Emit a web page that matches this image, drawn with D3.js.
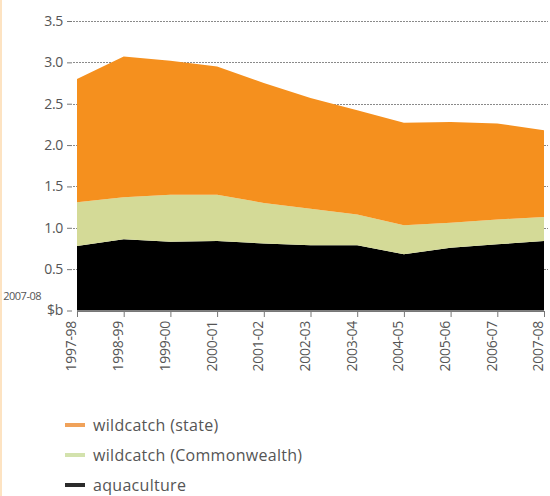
<!DOCTYPE html>
<html>
<head>
<meta charset="utf-8">
<script src="https://cdn.jsdelivr.net/npm/d3@7"></script>
<style>
  html, body { margin: 0; padding: 0; background: #fff; }
  svg { display: block; }
  text { font-family: "Open Sans", "Noto Sans", sans-serif; }
</style>
</head>
<body>
<svg id="chart" width="550" height="496"></svg>
<script>
// ---- data ----
const years = ["1997-98","1998-99","1999-00","2000-01","2001-02","2002-03","2003-04","2004-05","2005-06","2006-07","2007-08"];
const aquaculture = [0.78,0.86,0.83,0.84,0.81,0.79,0.79,0.68,0.76,0.80,0.84];
const wildCommonwealth = [0.53,0.51,0.57,0.56,0.49,0.44,0.37,0.35,0.30,0.30,0.29];
const wildState = [1.49,1.70,1.62,1.55,1.45,1.34,1.26,1.24,1.22,1.16,1.05];
const yTicks = [0, 0.5, 1.0, 1.5, 2.0, 2.5, 3.0, 3.5];
const yTickLabels = ["$b","0.5","1.0","1.5","2.0","2.5","3.0","3.5"];
const seriesKeys = ["aquaculture","wildCommonwealth","wildState"];
const seriesColors = {aquaculture:"#000000", wildCommonwealth:"#d4da97", wildState:"#f5901e"};
const legendItems = [
  {key:"wildState", label:"wildcatch (state)", color:"#f0a25a"},
  {key:"wildCommonwealth", label:"wildcatch (Commonwealth)", color:"#d3e2ad"},
  {key:"aquaculture", label:"aquaculture", color:"#2b2b2b"}
];

const table = years.map((y,i)=>({year:y, aquaculture:aquaculture[i], wildCommonwealth:wildCommonwealth[i], wildState:wildState[i]}));

const svg = d3.select("#chart");
// left border strip
svg.append("rect").attr("x",0).attr("y",0).attr("width",2).attr("height",496).attr("fill","#fde3c2");

const x = d3.scalePoint().domain(years).range([77, 544]);
const y = d3.scaleLinear().domain([0, 3.5]).range([310.5, 21]);

// gridlines
svg.append("g").selectAll("line").data(yTicks.filter(d=>d>0)).join("line")
  .attr("x1", 73).attr("x2", 548)
  .attr("y1", d=>Math.round(y(d))+0.5).attr("y2", d=>Math.round(y(d))+0.5)
  .attr("stroke","#8a8a8a").attr("stroke-width",1).attr("stroke-dasharray","2,1");

// stacked areas
const stack = d3.stack().keys(seriesKeys);
const layers = stack(table);
const area = d3.area()
  .x(d=>x(d.data.year))
  .y0(d=>y(d[0]))
  .y1(d=>y(d[1]));
svg.append("g").selectAll("path").data(layers).join("path")
  .attr("d", area)
  .attr("fill", d=>seriesColors[d.key]);

// y axis
const yAxis = d3.axisLeft(y).tickValues(yTicks).tickFormat((d,i)=>yTickLabels[i]).tickSize(5).tickPadding(4);
const yg = svg.append("g").attr("transform","translate(72,0)").call(yAxis);
yg.select(".domain").remove();
yg.selectAll(".tick line").attr("stroke","#777");
yg.selectAll(".tick text").attr("fill","#555").style("font-size","14px").style("letter-spacing","-0.3px");
svg.append("text").attr("x",41).attr("y",300).attr("text-anchor","end")
  .attr("fill","#555").style("font-size","11px").style("letter-spacing","-0.5px").text("2007-08");

// x axis
const xAxis = d3.axisBottom(x).tickSize(6).tickPadding(4);
const xg = svg.append("g").attr("transform","translate(0,311)").call(xAxis);
xg.select(".domain").attr("stroke","#777");
xg.selectAll(".tick line").attr("stroke","#777");
xg.selectAll(".tick text")
  .attr("fill","#555").style("font-size","14px").style("letter-spacing","-0.3px")
  .attr("transform","rotate(-90)")
  .attr("text-anchor","end")
  .attr("x",-10).attr("y",-6).attr("dy","0.35em");

// legend
const lg = svg.append("g").selectAll("g").data(legendItems).join("g")
  .attr("transform",(d,i)=>`translate(65,${425 + i*30})`);
lg.append("line").attr("x1",0).attr("x2",20).attr("y1",0).attr("y2",0)
  .attr("stroke",d=>d.color).attr("stroke-width",4);
lg.append("text").attr("x",28).attr("y",0).attr("dy","0.35em")
  .attr("fill","#555").style("font-size","16px").style("letter-spacing","0.3px").text(d=>d.label);
</script>
</body>
</html>
